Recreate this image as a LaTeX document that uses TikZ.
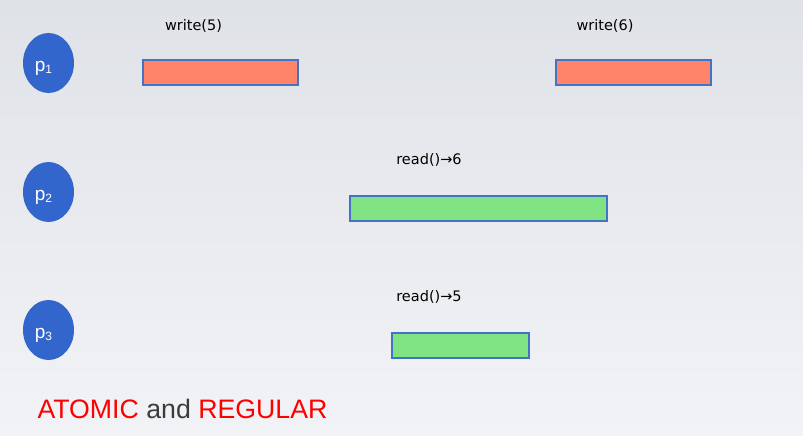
\documentclass[tikz,border=0pt]{standalone}
\usepackage{fontspec}
\setmainfont{DejaVu Sans}
\newfontfamily\arialfont{Liberation Sans}
\usetikzlibrary{shapes.geometric}
\definecolor{pblue}{HTML}{3366CC}
\definecolor{wred}{HTML}{FF8469}
\definecolor{rgreen}{HTML}{80E383}
\definecolor{edgeblue}{HTML}{4472C4}
\definecolor{bgtop}{HTML}{DFE2E7}
\definecolor{bgbot}{HTML}{F2F3F6}
\definecolor{andgray}{HTML}{3C3C3C}
\newcommand{\procname}[1]{p\raisebox{-2.5pt}{\fontsize{12}{12}\selectfont #1}}
\begin{document}
\begin{tikzpicture}[x=1pt, y=-1pt,
  proc/.style={ellipse, fill=pblue, minimum width=51pt, minimum height=60pt, inner sep=0pt},
  plabel/.style={text=white, font=\arialfont\fontsize{19}{19}\selectfont, xshift=-5pt, yshift=-5pt},
  op/.style={draw=edgeblue, line width=1.3pt, minimum height=25pt, inner sep=0pt},
  wop/.style={op, fill=wred},
  rop/.style={op, fill=rgreen},
  oplabel/.style={font=\fontsize{14.5}{14.5}\selectfont}]
\shade[top color=bgtop, bottom color=bgbot] (0,0) rectangle (803,436);
\useasboundingbox (0,0) rectangle (803,436);
\node[proc, label={[plabel]center:\procname{1}}] (p1) at (48.5,63) {};
\node[proc, label={[plabel]center:\procname{2}}] (p2) at (48.5,192) {};
\node[proc, label={[plabel]center:\procname{3}}] (p3) at (48.5,330) {};
\node[wop, minimum width=155pt] (w5) at (220.5,72.5) {};
\node[wop, minimum width=155pt] (w6) at (633.5,72.5) {};
\node[rop, minimum width=257pt] (r6) at (478.5,208.5) {};
\node[rop, minimum width=137pt] (r5) at (460.5,345.5) {};
\node[oplabel] (w5l) at (193.5,26) {write(5)};
\node[oplabel] (w6l) at (605,26) {write(6)};
\node[oplabel] (r6l) at (429,160) {read()→6};
\node[oplabel] (r5l) at (429,297) {read()→5};
\node[anchor=west, font=\arialfont\fontsize{26.7}{26.7}\selectfont] (title) at (34,409)
  {\textcolor{red}{ATOMIC} \textcolor{andgray}{and} \textcolor{red}{REGULAR}};
\end{tikzpicture}
\end{document}
